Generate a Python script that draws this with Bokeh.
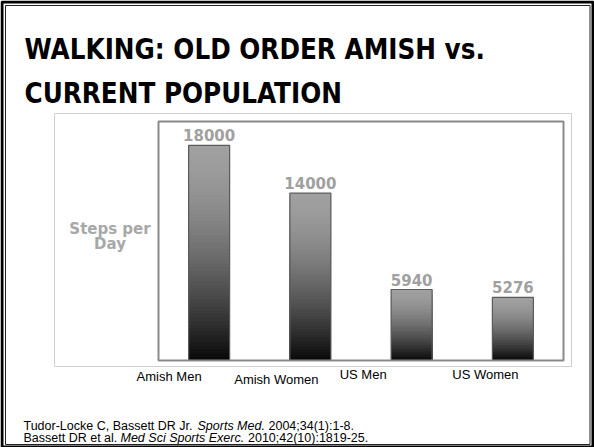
from bokeh.plotting import figure
from bokeh.models import Range1d, BoxAnnotation
from bokeh.core.properties import value
from bokeh.embed import file_html
from bokeh.resources import INLINE

# ---------------- data ----------------
categories = ["Amish Men", "Amish Women", "US Men", "US Women"]
steps_per_day = [18000, 14000, 5940, 5276]
value_labels = ["18000", "14000", "5940", "5276"]
title_lines = ["WALKING: OLD ORDER AMISH vs.", "CURRENT POPULATION"]
y_title_lines = ["Steps per", "Day"]
ref_line1 = ["Tudor-Locke C, Bassett DR Jr.", "Sports Med.", "2004;34(1):1-8."]
ref_line2 = ["Bassett DR et al.", "Med Sci Sports Exerc.", "2010;42(10):1819-25."]

# ---------------- layout (page pixels) ----------------
W, H = 594, 447
FL, FR, FT, FB = 158, 563, 121, 360      # chart frame on the page
Y_MAX = 20000
BAR_W = 0.405
NCAT = len(categories)
CAT_PX = (FR - FL) / NCAT
K = Y_MAX / (FB - FT)                    # data units per pixel (y)

def X(px):
    return (px - FL) / CAT_PX

def Y(py):
    return (FB - py) * K

p = figure(width=W, height=H,
           x_range=Range1d(X(0), X(W)), y_range=Range1d(Y(H), Y(0)),
           output_backend="svg", toolbar_location=None,
           x_axis_location=None, y_axis_location=None,
           min_border=0)
p.grid.visible = False
p.background_fill_color = "white"
p.border_fill_color = "white"
p.outline_line_color = None

xc = [i + 0.5 for i in range(NCAT)]   # category centres on the scale

def frame_box(l, r, t, b, color, width):
    p.add_layout(BoxAnnotation(left=l, right=r, top=t, bottom=b,
                               fill_alpha=0, line_color=color, line_alpha=1.0,
                               line_width=width))

# page frames
frame_box(X(1.5), X(592.5), Y(1.5), Y(446.5), "black", 3)
frame_box(X(5), X(589.5), Y(5), Y(444), "#222222", 1)
frame_box(X(54), X(571), Y(113), Y(366), "#cfcfcf", 1)

# gradient bars: layered, each shorter layer darker (light grey top -> black bottom)
N = 60
for k in range(N):
    frac_top = (N - k) / N
    fm = (N - k - 0.5) / N
    g = int(round(8 + 152 * (1 - (1 - fm) ** 1.6)))
    col = "#%02x%02x%02x" % (g, g, g)
    p.vbar(x=xc, bottom=0, top=[v * frac_top for v in steps_per_day],
           width=BAR_W, fill_color=col, line_color=None)
p.vbar(x=xc, bottom=0, top=steps_per_day, width=BAR_W,
       fill_color=None, line_color="#5a5a5a", line_width=1.2)

# chart frame
frame_box(0, NCAT, Y_MAX, 0, "#8a8a8a", 2)

# value labels
p.text(x=xc, y=steps_per_day, text=value_labels,
       text_align="center", text_baseline="middle", y_offset=-10,
       text_font=value("DejaVu Sans"), text_font_style="bold",
       text_font_size="15px", text_color="#a0a0a0")

# title
p.text(x=[X(24)] * 2, y=[Y(48.5), Y(92.5)], text=title_lines,
       text_font=value("DejaVu Sans Condensed"),
       text_font_style="bold", text_font_size="27.5px", text_color="black",
       text_align="left", text_baseline="middle")

# y title
p.text(x=[X(109.5)] * 2, y=[Y(228.5), Y(243)], text=y_title_lines,
       text_font=value("DejaVu Sans"), text_font_style="bold", text_font_size="15px",
       text_color="#a8a8a8", text_align="center", text_baseline="middle")

# category labels (hand-placed offsets as in the original slide)
LABEL_DX = [-40, -34, -48.5, -27.5]
LABEL_MID = [375.5, 378.5, 373.5, 373.5]
p.text(x=[c + dx / CAT_PX for c, dx in zip(xc, LABEL_DX)],
       y=[Y(m) for m in LABEL_MID], text=categories,
       text_font=value("Liberation Sans"), text_font_size="13px", text_color="black",
       text_align="center", text_baseline="middle")

# references
REF_X1 = [23, 197, 268]
REF_X2 = [23, 120, 247.5]
for segs, xs, mid in [(ref_line1, REF_X1, 425), (ref_line2, REF_X2, 437.5)]:
    for j, (seg, x0) in enumerate(zip(segs, xs)):
        p.text(x=[X(x0)], y=[Y(mid)], text=[seg],
               text_font=value("Liberation Sans"), text_font_size="12.5px",
               text_color="black",
               text_font_style="italic" if j == 1 else "normal",
               text_align="left", text_baseline="middle")

open("out.html", "w").write(file_html(p, INLINE))
